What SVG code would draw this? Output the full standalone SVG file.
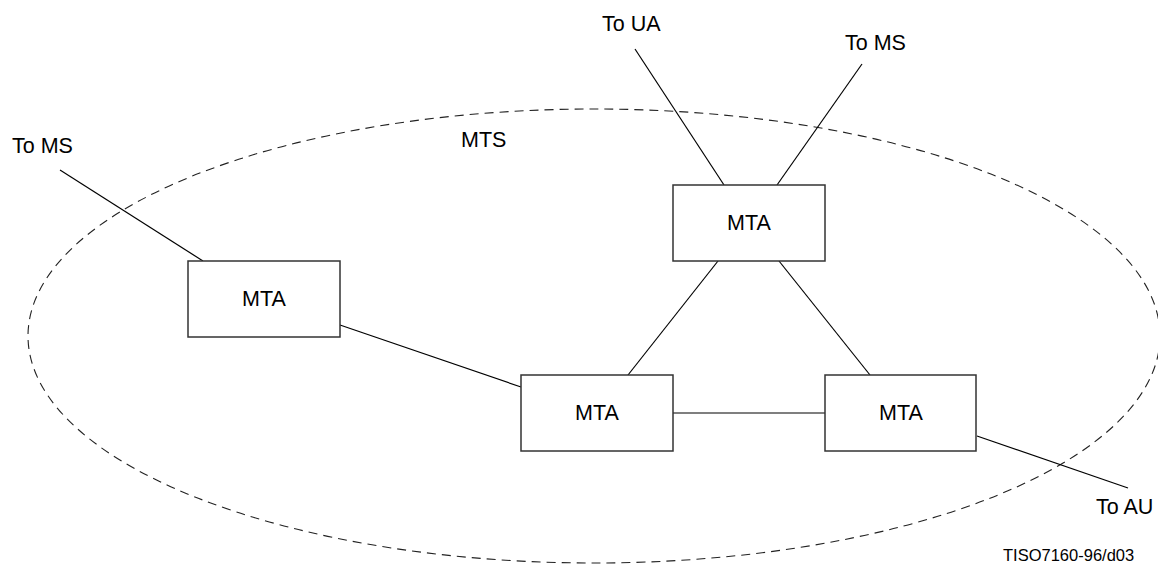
<svg xmlns="http://www.w3.org/2000/svg" width="1158" height="564" viewBox="0 0 1158 564">
<style>
.box{fill:#fff;stroke:#333;stroke-width:1.5}
.ln{stroke:#000;stroke-width:1.2;fill:none}
.t{font-family:"Liberation Sans",Arial,sans-serif;font-size:21.5px;fill:#000}
.c{text-anchor:middle}
.bd{fill:none;stroke:#222;stroke-width:1.1;stroke-dasharray:9,6}
</style>
<rect width="1158" height="564" fill="#fff"/>
<g id="mts">
<ellipse class="bd" cx="594" cy="336" rx="566" ry="227"/>
<text class="t" x="461" y="147">MTS</text>
</g>
<g id="connectors">
<line class="ln" x1="60" y1="170" x2="203" y2="261"/>
<line class="ln" x1="340" y1="325" x2="521" y2="387"/>
<line class="ln" x1="635" y1="49" x2="724" y2="185"/>
<line class="ln" x1="862" y1="64" x2="777" y2="185"/>
<line class="ln" x1="718" y1="261" x2="628" y2="375"/>
<line class="ln" x1="779" y1="261" x2="870" y2="375"/>
<line class="ln" x1="673" y1="413" x2="825" y2="413"/>
<line class="ln" x1="977" y1="436" x2="1128" y2="488"/>
</g>
<g id="mta-left">
<rect class="box" x="188" y="261" width="152" height="76"/>
<text class="t c" x="264" y="306">MTA</text>
</g>
<g id="mta-top">
<rect class="box" x="673" y="185" width="152" height="76"/>
<text class="t c" x="749" y="230">MTA</text>
</g>
<g id="mta-bottom-left">
<rect class="box" x="521" y="375" width="152" height="76"/>
<text class="t c" x="597" y="420">MTA</text>
</g>
<g id="mta-bottom-right">
<rect class="box" x="825" y="375" width="151" height="76"/>
<text class="t c" x="901" y="420">MTA</text>
</g>
<g id="labels">
<text class="t" x="12" y="153">To MS</text>
<text class="t" x="602" y="31">To UA</text>
<text class="t" x="845" y="50">To MS</text>
<text class="t" x="1096" y="514">To AU</text>
<text class="t" x="1003" y="561" style="font-size:16.5px">TISO7160-96/d03</text>
</g>
</svg>
